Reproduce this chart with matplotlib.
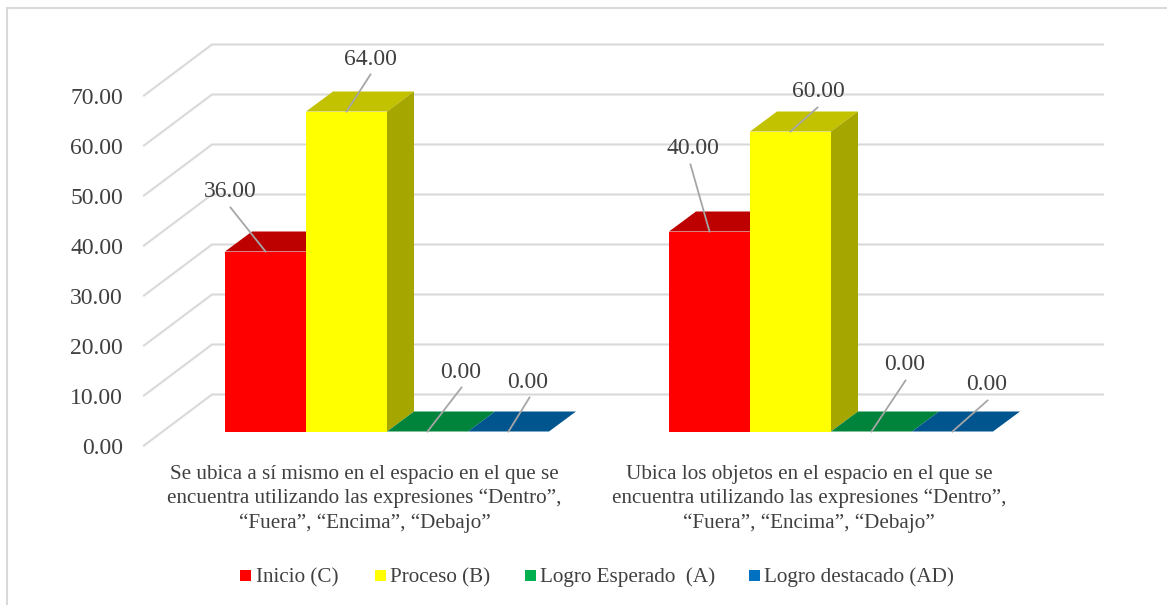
import matplotlib
matplotlib.use('Agg')
import matplotlib.pyplot as plt
from matplotlib.patches import Polygon, Rectangle

plt.rcParams['font.family'] = ['Liberation Serif', 'DejaVu Serif']

# data
categories = [
    "Se ubica a sí mismo en el espacio en el que se\nencuentra utilizando las expresiones “Dentro”,\n“Fuera”, “Encima”, “Debajo”",
    "Ubica los objetos en el espacio en el que se\nencuentra utilizando las expresiones “Dentro”,\n“Fuera”, “Encima”, “Debajo”",
]
series_names = ["Inicio (C)", "Proceso (B)", "Logro Esperado  (A)", "Logro destacado (AD)"]
inicio = [36.0, 40.0]
proceso = [64.0, 60.0]
logro_esperado = [0.0, 0.0]
logro_destacado = [0.0, 0.0]
y_ticks = [0, 10, 20, 30, 40, 50, 60, 70]

# colours
front_cols = ['#FF0000', '#FFFF00', '#00B050', '#0070C0']
top_cols = ['#BD0000', '#C2C200', '#00843C', '#00558F']
side_cols = ['#8F0000', '#A6A600', '#00602C', '#003F6B']
text_col = '#404040'
grid_col = '#D9D9D9'

# layout, the axes spans the figure: x in pixels, y in chart units (5 px per unit)
W, H = 1167, 605
base_px = 431.5
px_per_unit = 5.0
bar_w = 81
group_x = [225, 669]
depth_x, depth_y = 27, 20 / px_per_unit

fig = plt.figure(figsize=(W / 100, H / 100), dpi=100)
ax = fig.add_axes([0, 0, 1, 1])
ax.set_xlim(0, W)
ax.set_ylim((base_px - H) / px_per_unit, base_px / px_per_unit)
ax.axis('off')


def y_of(px):
    return (base_px - px) / px_per_unit


# chart frame, only the left and top edges are inside the picture
ax.plot([7, 7, W], [y_of(H), y_of(8), y_of(8)], color=grid_col, lw=1.5,
        solid_joinstyle='miter', zorder=1)

# gridlines: diagonal floor/side part and back wall part
for t in y_ticks:
    y_front = y_of(445.5) + t
    y_back = y_of(394.5) + t
    ax.plot([144, 212, 1103], [y_front, y_back, y_back], color=grid_col, lw=1.5,
            solid_joinstyle='miter', zorder=1)
    ax.text(123, y_front - 0.7, f"{t:.2f}", ha='right', va='center', fontsize=17, color=text_col)

# bars, back to front so each one covers the side of the one before
all_series = [inicio, proceso, logro_esperado, logro_destacado]
for g, gx in enumerate(group_x):
    for s, vals in enumerate(all_series):
        x0 = gx + s * bar_w
        v = vals[g]
        ax.bar(x0, v, width=bar_w, bottom=0, align='edge', color=front_cols[s], lw=0, zorder=3 + s)
        # top face
        ax.add_patch(Polygon([(x0, v), (x0 + bar_w, v), (x0 + bar_w + depth_x, v + depth_y), (x0 + depth_x, v + depth_y)],
                             closed=True, fc=top_cols[s], ec='none', zorder=3 + s))
        # side face
        if v > 0:
            ax.add_patch(Polygon([(x0 + bar_w, 0), (x0 + bar_w + depth_x, depth_y), (x0 + bar_w + depth_x, v + depth_y), (x0 + bar_w, v)],
                                 closed=True, fc=side_cols[s], ec='none', zorder=3 + s))

# data labels with leader lines: (series, group, leader end dx/dy in px, label dx/dy in px)
label_spots = [
    (0, 0, -35, 44, -35, 60),
    (1, 0, 24, 37, 24, 52),
    (2, 0, 34, 44, 33, 59),
    (3, 0, 21, 34, 19, 49),
    (0, 1, -19, 67, -17, 83),
    (1, 1, 27, 24, 28, 40),
    (2, 1, 34, 51, 33, 67),
    (3, 1, 35, 31, 34, 47),
]
for s, g, lx, ly, tx, ty in label_spots:
    cx = group_x[g] + s * bar_w + bar_w / 2
    v = all_series[s][g]
    ax.plot([cx, cx + lx], [v, v + ly / px_per_unit], color='#A6A6A6', lw=1.3, zorder=10)
    ax.text(cx + tx, v + ty / px_per_unit, f"{v:.2f}", ha='center', va='center', fontsize=17,
            color=text_col, zorder=11)

# category labels
cat_centers = [364.5, 809]
for cx, cat in zip(cat_centers, categories):
    ax.text(cx, y_of(499), cat, ha='center', va='center', fontsize=15.2, color=text_col, linespacing=1.36)

# legend
legend_x = [240, 375, 525, 749]
for name, col, lx in zip(series_names, front_cols, legend_x):
    ax.add_patch(Rectangle((lx, y_of(580.5)), 11, 11 / px_per_unit, fc=col, ec='none'))
    ax.text(lx + 15.5, y_of(577.5), name, ha='left', va='center', fontsize=15.2, color=text_col)

fig.savefig('out.png', dpi=100, facecolor='white')
